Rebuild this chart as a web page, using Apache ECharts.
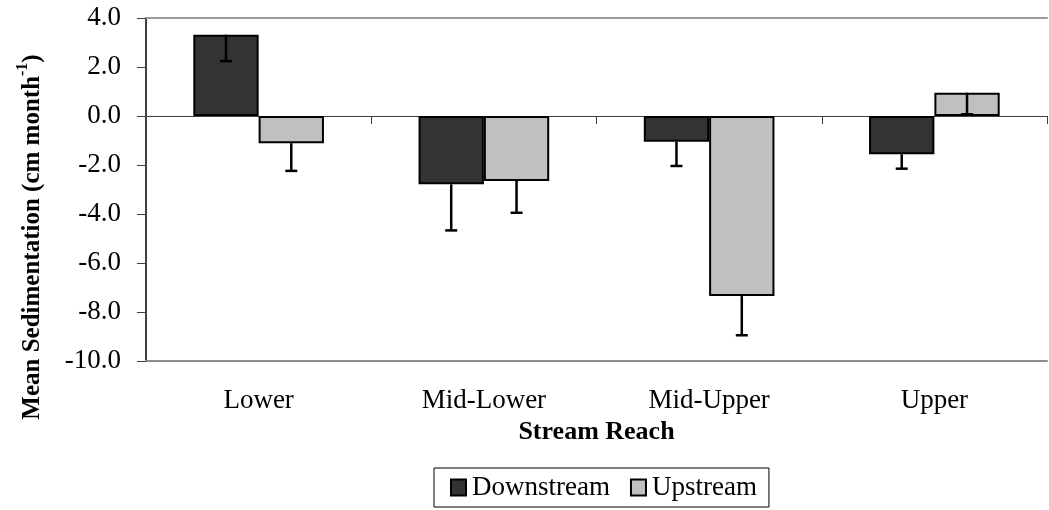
<!DOCTYPE html>
<html>
<head>
<meta charset="utf-8">
<script src="https://cdn.jsdelivr.net/npm/echarts@6/dist/echarts.min.js"></script>
<style>
  html, body { margin: 0; padding: 0; background: #fff; }
  #chart { width: 1049px; height: 510px; }
</style>
</head>
<body>
<div id="chart"></div>
<script>
// data
const categories = ['Lower', 'Mid-Lower', 'Mid-Upper', 'Upper'];
const downstream = [3.32, -2.79, -1.05, -1.56];
const downstreamErr = [1.08, 1.88, 0.99, 0.59];
const upstream = [-1.11, -2.65, -7.35, 0.95];
const upstreamErr = [1.13, 1.30, 1.60, 0.88];
const yTicks = { min: -10, max: 4, interval: 2 };

const FONT = '"Liberation Serif", "Times New Roman", serif';
const GAP = 0.42; // barCategoryGap

const chart = echarts.init(document.getElementById('chart'));

// minus-only error bars, drawn at the bar centres
function errorSeries(values, errs, side) {
  return {
    type: 'custom',
    xAxisIndex: 0,
    z: 5,
    silent: true,
    data: values.map((v, i) => [i, v, v - errs[i]]),
    renderItem(params, api) {
      const i = api.value(0);
      const catW = api.size([1, 0])[0];
      const barW = catW * (1 - GAP) / 2;
      const p0 = api.coord([i, api.value(1)]);
      const p1 = api.coord([i, api.value(2)]);
      const x = p0[0] + side * barW / 2;
      const style = { stroke: '#000', lineWidth: 2.5 };
      return {
        type: 'group',
        children: [
          { type: 'line', shape: { x1: x, y1: p0[1], x2: x, y2: p1[1] }, style },
          { type: 'line', shape: { x1: x - 6, y1: p1[1], x2: x + 6, y2: p1[1] }, style }
        ]
      };
    }
  };
}

const option = {
  animation: false,
  backgroundColor: '#fff',
  grid: { left: 146, right: 2, top: 18, bottom: 149 },
  xAxis: [
    {
      type: 'category',
      data: categories,
      axisLine: { onZero: true, lineStyle: { color: '#404040', width: 1 } },
      axisTick: { show: true, interval: 0, length: 8, lineStyle: { color: '#404040' } },
      axisLabel: { show: false },
      splitLine: { show: false }
    },
    {
      type: 'category',
      data: categories,
      position: 'bottom',
      axisLine: { onZero: false, lineStyle: { color: '#8c8c8c', width: 2 } },
      axisTick: { show: false },
      axisLabel: { color: '#000', fontFamily: FONT, fontSize: 27, margin: 26 },
      name: 'Stream Reach',
      nameLocation: 'middle',
      nameGap: 58,
      nameTextStyle: { color: '#000', fontFamily: FONT, fontSize: 26, fontWeight: 'bold' }
    },
    {
      type: 'category',
      data: categories,
      position: 'top',
      axisLine: { onZero: false, lineStyle: { color: '#9a9a9a', width: 2 } },
      axisTick: { show: false },
      axisLabel: { show: false }
    }
  ],
  yAxis: {
    type: 'value',
    min: yTicks.min,
    max: yTicks.max,
    interval: yTicks.interval,
    axisLine: { show: true, lineStyle: { color: '#404040', width: 2 } },
    axisTick: { show: true, length: 9, lineStyle: { color: '#404040' } },
    axisLabel: {
      color: '#000', fontFamily: FONT, fontSize: 27, margin: 25,
      formatter: v => v.toFixed(1)
    },
    splitLine: { show: false }
  },
  legend: {
    data: ['Downstream', 'Upstream'],
    left: 434,
    top: 468,
    orient: 'horizontal',
    icon: 'rect',
    itemWidth: 15,
    itemHeight: 16,
    itemGap: 20,
    padding: [6, 12, 6, 16],
    borderColor: '#000',
    borderWidth: 1,
    textStyle: { color: '#000', fontFamily: FONT, fontSize: 27, padding: [0, 0, 0, 1] }
  },
  graphic: [
    {
      type: 'text',
      x: 30,
      y: 237,
      rotation: Math.PI / 2,
      style: {
        text: '{b|Mean Sedimentation (cm month}{s|-1}{b|)}',
        align: 'center',
        verticalAlign: 'middle',
        fill: '#000',
        rich: {
          b: { fontFamily: FONT, fontSize: 25, fontWeight: 'bold', lineHeight: 30, verticalAlign: 'bottom' },
          s: { fontFamily: FONT, fontSize: 16, fontWeight: 'bold', lineHeight: 16, verticalAlign: 'top' }
        }
      }
    }
  ],
  series: [
    {
      name: 'Downstream',
      type: 'bar',
      xAxisIndex: 0,
      data: downstream,
      barGap: '0%',
      barCategoryGap: (GAP * 100) + '%',
      itemStyle: { color: '#333333', borderColor: '#000', borderWidth: 2 }
    },
    {
      name: 'Upstream',
      type: 'bar',
      xAxisIndex: 0,
      data: upstream,
      itemStyle: { color: '#c0c0c0', borderColor: '#000', borderWidth: 2 }
    },
    errorSeries(downstream, downstreamErr, -1),
    errorSeries(upstream, upstreamErr, 1)
  ]
};

chart.setOption(option);
</script>
</body>
</html>
